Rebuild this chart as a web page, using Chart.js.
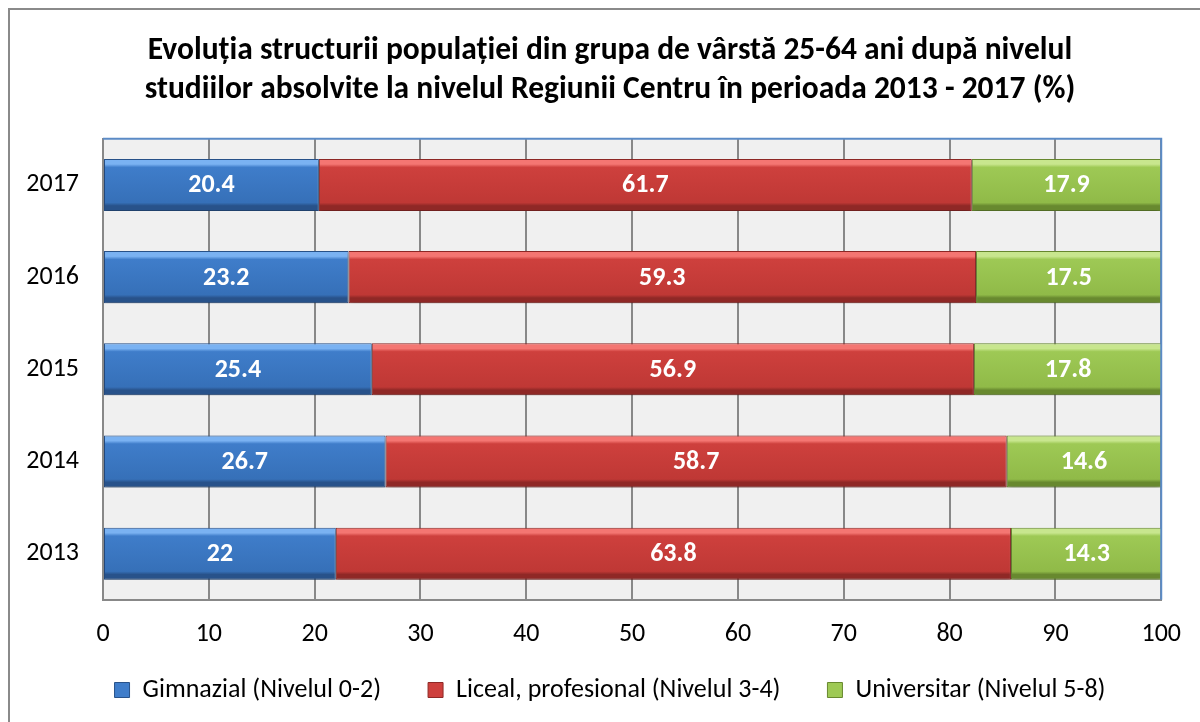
<!DOCTYPE html>
<html>
<head>
<meta charset="utf-8">
<script src="https://cdn.jsdelivr.net/npm/chart.js@4"></script>
<style>
    html, body { margin: 0; padding: 0; background: #ffffff; }
    #frame { position: absolute; left: 8px; top: 8px; width: 1300px; height: 800px; border: 2px solid #8a8a8a; box-sizing: border-box; }
    #wrap { position: absolute; left: 0; top: 0; width: 1200px; height: 722px; }
</style>
</head>
<body>
<div id="frame"></div>
<div id="wrap"><canvas id="chart"></canvas></div>
<script>
// Date din grafic (%)
const years = ['2017', '2016', '2015', '2014', '2013'];
const gimnazial = [20.4, 23.2, 25.4, 26.7, 22];
const liceal = [61.7, 59.3, 56.9, 58.7, 63.8];
const universitar = [17.9, 17.5, 17.8, 14.6, 14.3];
const seriesNames = ['Gimnazial (Nivelul 0-2)', 'Liceal, profesional (Nivelul 3-4)', 'Universitar (Nivelul 5-8)'];
const xTicks = [0, 10, 20, 30, 40, 50, 60, 70, 80, 90, 100];

const FONT = "Calibri, Carlito, Lato, 'Open Sans', sans-serif";

// light / main / dark shade per series
const palette = [
    { light: '#7ab2f2', main: '#3f7dca', mainLow: '#3670b8', dark: '#28528a' },
    { light: '#f47672', main: '#ce403d', mainLow: '#bf3835', dark: '#8f2826' },
    { light: '#c8e68e', main: '#9ec955', mainLow: '#90ba48', dark: '#68892f' }
];

function barGradient(pal) {
    return function(ctx) {
        const chart = ctx.chart;
        if (!chart.chartArea || ctx.type !== 'data') return pal.main;
        const yc = chart.scales.y.getPixelForValue(ctx.dataIndex);
        const half = 26;
        const g = chart.ctx.createLinearGradient(0, yc - half, 0, yc + half);
        g.addColorStop(0, pal.light);
        g.addColorStop(0.1, pal.light);
        g.addColorStop(0.16, pal.main);
        g.addColorStop(0.84, pal.mainLow);
        g.addColorStop(0.9, pal.dark);
        g.addColorStop(1, pal.dark);
        return g;
    };
}

// plot background + blue top/right frame
const plotFrame = {
    id: 'plotFrame',
    beforeDraw(chart) {
        const { ctx, chartArea: a } = chart;
        ctx.save();
        ctx.fillStyle = '#f0f0f0';
        ctx.fillRect(a.left, a.top, a.right - a.left, a.bottom - a.top);
        ctx.restore();
    },
    afterDraw(chart) {
        const { ctx, chartArea: a } = chart;
        ctx.save();
        ctx.strokeStyle = '#5b8bc6';
        ctx.lineWidth = 2;
        ctx.beginPath();
        ctx.moveTo(a.left, a.top);
        ctx.lineTo(a.right, a.top);
        ctx.lineTo(a.right, a.bottom);
        ctx.stroke();
        ctx.restore();
    }
};

// soft shadow under the bars
const barShadow = {
    id: 'barShadow',
    beforeDatasetsDraw(chart) {
        const ctx = chart.ctx;
        ctx.save();
        ctx.shadowColor = 'rgba(0, 0, 0, 0.28)';
        ctx.shadowBlur = 5;
        ctx.shadowOffsetY = 3;
    },
    afterDatasetsDraw(chart) {
        chart.ctx.restore();
    }
};

// white values in the middle of each segment
const barLabels = {
    id: 'barLabels',
    afterDatasetsDraw(chart) {
        const ctx = chart.ctx;
        ctx.save();
        ctx.font = 'bold 26px ' + FONT;
        ctx.fillStyle = '#ffffff';
        ctx.textAlign = 'center';
        ctx.textBaseline = 'middle';
        chart.data.datasets.forEach((ds, i) => {
            chart.getDatasetMeta(i).data.forEach((bar, j) => {
                const x = (bar.x + bar.base) / 2;
                ctx.fillText(String(ds.data[j]), x, bar.y + 1);
            });
        });
        ctx.restore();
    }
};

const datasets = [gimnazial, liceal, universitar].map((vals, i) => ({
    label: seriesNames[i],
    data: vals,
    yAxisID: 'y',
    backgroundColor: barGradient(palette[i]),
    borderColor: palette[i].dark,
    borderWidth: 1,
    borderSkipped: false,
    categoryPercentage: 0.565,
    barPercentage: 1
}));

new Chart(document.getElementById('chart'), {
    type: 'bar',
    data: { labels: years, datasets: datasets },
    options: {
        indexAxis: 'y',
        responsive: true,
        maintainAspectRatio: false,
        animation: false,
        layout: { padding: { left: 20, right: 0, top: 0, bottom: 9 } },
        plugins: {
            title: {
                display: true,
                text: ['Evoluția structurii populației din grupa de vârstă 25-64 ani după nivelul',
                       'studiilor absolvite la nivelul Regiunii Centru în perioada 2013 - 2017 (%)'],
                color: '#000000',
                font: { family: FONT, size: 31.5, weight: 'bold', lineHeight: 1.22 },
                padding: { top: 32, bottom: 30 }
            },
            legend: {
                position: 'bottom',
                labels: {
                    color: '#000000',
                    font: { family: FONT, size: 26 },
                    boxWidth: 15,
                    boxHeight: 15,
                    padding: 8,
                    generateLabels(chart) {
                        return seriesNames.map((n, i) => ({
                            text: i < seriesNames.length - 1 ? n + '\u2003\u2002' : n,
                            fillStyle: palette[i].main,
                            strokeStyle: palette[i].dark,
                            lineWidth: 1,
                            datasetIndex: i
                        }));
                    }
                }
            },
            tooltip: { enabled: false }
        },
        scales: {
            x: {
                stacked: true,
                min: 0,
                max: 100,
                afterBuildTicks(scale) { scale.ticks = xTicks.map(v => ({ value: v })); },
                ticks: { color: '#000000', font: { family: FONT, size: 26 }, padding: 19 },
                grid: { color: '#888888', lineWidth: 2, drawTicks: false },
                border: { color: '#888888', width: 2 }
            },
            y: {
                stacked: true,
                afterFit(scale) { scale.width = 83; },
                ticks: { color: '#000000', font: { family: FONT, size: 26 }, padding: 24 },
                grid: { display: false, drawTicks: false },
                border: { color: '#888888', width: 2 }
            },
            // empty right-hand axis, only keeps the gap at the right of the plot
            yRight: {
                axis: 'y',
                type: 'category',
                position: 'right',
                afterFit(scale) { scale.width = 38; },
                ticks: { display: false },
                grid: { display: false, drawTicks: false },
                border: { display: false }
            }
        }
    },
    plugins: [plotFrame, barShadow, barLabels]
});
</script>
</body>
</html>
